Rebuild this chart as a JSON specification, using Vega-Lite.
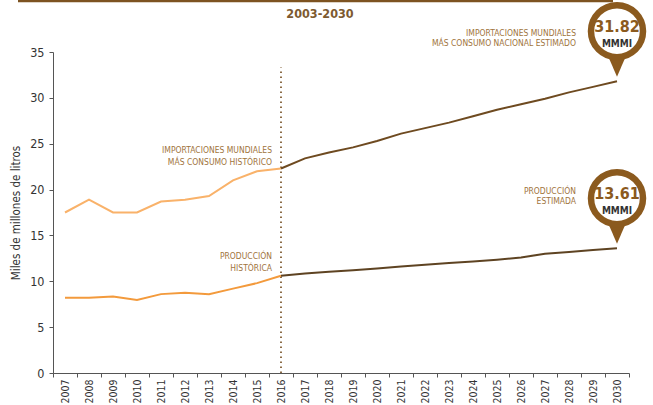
{
  "$schema": "https://vega.github.io/schema/vega-lite/v6.json",
  "width": 576,
  "height": 321,
  "autosize": {"type": "none"},
  "padding": {"left": 53, "top": 52, "right": 24, "bottom": 32},
  "background": "white",
  "config": {
    "view": {"stroke": null},
    "font": "'DejaVu Sans Condensed', Roboto, sans-serif",
    "axis": {"labelFont": "'DejaVu Sans Condensed', Roboto, sans-serif", "titleFont": "'DejaVu Sans Condensed', Roboto, sans-serif", "domainColor": "#555555", "tickColor": "#555555", "labelColor": "#333333", "titleColor": "#333333", "grid": false}
  },
  "datasets": {
    "series": [
      {"year": "2007", "value": 17.5, "serie": "imp_hist"},
      {"year": "2008", "value": 18.9, "serie": "imp_hist"},
      {"year": "2009", "value": 17.5, "serie": "imp_hist"},
      {"year": "2010", "value": 17.5, "serie": "imp_hist"},
      {"year": "2011", "value": 18.7, "serie": "imp_hist"},
      {"year": "2012", "value": 18.9, "serie": "imp_hist"},
      {"year": "2013", "value": 19.3, "serie": "imp_hist"},
      {"year": "2014", "value": 21.0, "serie": "imp_hist"},
      {"year": "2015", "value": 22.0, "serie": "imp_hist"},
      {"year": "2016", "value": 22.3, "serie": "imp_hist"},
      {"year": "2016", "value": 22.3, "serie": "imp_proj"},
      {"year": "2017", "value": 23.4, "serie": "imp_proj"},
      {"year": "2018", "value": 24.05, "serie": "imp_proj"},
      {"year": "2019", "value": 24.6, "serie": "imp_proj"},
      {"year": "2020", "value": 25.3, "serie": "imp_proj"},
      {"year": "2021", "value": 26.1, "serie": "imp_proj"},
      {"year": "2022", "value": 26.7, "serie": "imp_proj"},
      {"year": "2023", "value": 27.3, "serie": "imp_proj"},
      {"year": "2024", "value": 28.0, "serie": "imp_proj"},
      {"year": "2025", "value": 28.7, "serie": "imp_proj"},
      {"year": "2026", "value": 29.3, "serie": "imp_proj"},
      {"year": "2027", "value": 29.9, "serie": "imp_proj"},
      {"year": "2028", "value": 30.6, "serie": "imp_proj"},
      {"year": "2029", "value": 31.2, "serie": "imp_proj"},
      {"year": "2030", "value": 31.82, "serie": "imp_proj"},
      {"year": "2007", "value": 8.2, "serie": "prod_hist"},
      {"year": "2008", "value": 8.2, "serie": "prod_hist"},
      {"year": "2009", "value": 8.35, "serie": "prod_hist"},
      {"year": "2010", "value": 7.95, "serie": "prod_hist"},
      {"year": "2011", "value": 8.6, "serie": "prod_hist"},
      {"year": "2012", "value": 8.75, "serie": "prod_hist"},
      {"year": "2013", "value": 8.6, "serie": "prod_hist"},
      {"year": "2014", "value": 9.2, "serie": "prod_hist"},
      {"year": "2015", "value": 9.8, "serie": "prod_hist"},
      {"year": "2016", "value": 10.6, "serie": "prod_hist"},
      {"year": "2016", "value": 10.6, "serie": "prod_proj"},
      {"year": "2017", "value": 10.85, "serie": "prod_proj"},
      {"year": "2018", "value": 11.05, "serie": "prod_proj"},
      {"year": "2019", "value": 11.2, "serie": "prod_proj"},
      {"year": "2020", "value": 11.4, "serie": "prod_proj"},
      {"year": "2021", "value": 11.6, "serie": "prod_proj"},
      {"year": "2022", "value": 11.8, "serie": "prod_proj"},
      {"year": "2023", "value": 12.0, "serie": "prod_proj"},
      {"year": "2024", "value": 12.15, "serie": "prod_proj"},
      {"year": "2025", "value": 12.35, "serie": "prod_proj"},
      {"year": "2026", "value": 12.6, "serie": "prod_proj"},
      {"year": "2027", "value": 13.0, "serie": "prod_proj"},
      {"year": "2028", "value": 13.2, "serie": "prod_proj"},
      {"year": "2029", "value": 13.4, "serie": "prod_proj"},
      {"year": "2030", "value": 13.61, "serie": "prod_proj"}
    ],
    "labels": [
      {"year": "2016", "value": 24.35, "text": "IMPORTACIONES MUNDIALES", "group": "hist"},
      {"year": "2016", "value": 23.05, "text": "MÁS CONSUMO HISTÓRICO", "group": "hist"},
      {"year": "2016", "value": 12.8, "text": "PRODUCCIÓN", "group": "hist"},
      {"year": "2016", "value": 11.5, "text": "HISTÓRICA", "group": "hist"},
      {"year": "2030", "value": 37.08, "text": "IMPORTACIONES MUNDIALES", "group": "est"},
      {"year": "2030", "value": 35.99, "text": "MÁS CONSUMO NACIONAL ESTIMADO", "group": "est"},
      {"year": "2030", "value": 19.8, "text": "PRODUCCIÓN", "group": "est"},
      {"year": "2030", "value": 18.7, "text": "ESTIMADA", "group": "est"}
    ],
    "pins": [
      {"year": "2030", "value": 31.82, "label": "31.82", "unit": "MMMI"},
      {"year": "2030", "value": 13.61, "label": "13.61", "unit": "MMMI"}
    ],
    "marker": [
      {"year": "2016", "value": 0, "top": 33.3}
    ],
    "header": [
      {"start": "2007", "end": "2030", "value": 40.6, "title": "2003-2030", "at": "2016", "tpos": 39.1}
    ]
  },
  "encoding": {
    "x": {
      "field": "year", "type": "ordinal", "bandPosition": 0.5,
      "scale": {"type": "band", "paddingInner": 0, "paddingOuter": 0, "domain": ["2007","2008","2009","2010","2011","2012","2013","2014","2015","2016","2017","2018","2019","2020","2021","2022","2023","2024","2025","2026","2027","2028","2029","2030"]},
      "axis": {"title": null, "labelAngle": -90, "labelAlign": "right", "labelBaseline": "middle", "labelFontSize": 10.5, "labelPadding": 2, "tickSize": 4, "tickBand": "extent", "domainWidth": 1}
    },
    "y": {
      "field": "value", "type": "quantitative",
      "scale": {"domain": [0, 35], "nice": false, "zero": true},
      "axis": {"title": "Miles de millones de litros", "titleFontSize": 11.5, "titleFontWeight": "normal", "titlePadding": 8, "values": [0,5,10,15,20,25,30,35], "labelFontSize": 12.5, "labelPadding": 5, "tickSize": 4}
    }
  },
  "layer": [
    {
      "data": {"name": "header"},
      "mark": {"type": "rule", "color": "#7d5321", "strokeWidth": 3, "clip": false, "xOffset": -47, "x2Offset": -4},
      "encoding": {"x": {"field": "start", "type": "ordinal", "bandPosition": 0.5}, "x2": {"field": "end"}, "y": {"field": "value", "type": "quantitative"}}
    },
    {
      "data": {"name": "header"},
      "mark": {"type": "text", "color": "#7d5a30", "fontSize": 12.5, "fontWeight": 600, "dx": 39, "align": "center", "baseline": "middle", "clip": false},
      "encoding": {"x": {"field": "at", "type": "ordinal", "bandPosition": 0.5}, "y": {"field": "tpos", "type": "quantitative"}, "text": {"field": "title"}}
    },
    {
      "data": {"name": "marker"},
      "mark": {"type": "rule", "color": "#8a6a45", "strokeWidth": 2, "strokeDash": [1.5, 3.5]},
      "encoding": {"y2": {"field": "top"}}
    },
    {
      "data": {"name": "series"},
      "mark": {"type": "line", "strokeWidth": 2, "interpolate": "linear"},
      "encoding": {
        "color": {"field": "serie", "type": "nominal", "legend": null,
          "scale": {"domain": ["imp_hist", "imp_proj", "prod_hist", "prod_proj"], "range": ["#f9b26a", "#6e4a20", "#f39a3c", "#5e4322"]}},
        "detail": {"field": "serie"}
      }
    },
    {
      "data": {"name": "labels"},
      "transform": [{"filter": "datum.group == 'hist'"}],
      "mark": {"type": "text", "align": "right", "baseline": "middle", "dx": -9, "fontSize": 8.5, "color": "#a0743c"},
      "encoding": {"text": {"field": "text"}}
    },
    {
      "data": {"name": "labels"},
      "transform": [{"filter": "datum.group == 'est'"}],
      "mark": {"type": "text", "align": "right", "baseline": "middle", "dx": -41, "fontSize": 8.5, "color": "#a0743c", "clip": false},
      "encoding": {"text": {"field": "text"}}
    },
    {
      "data": {"name": "pins"},
      "mark": {"type": "point", "shape": "M -0.8 -1 L 0.8 -1 L 0 0.85 Z", "size": 400, "filled": true, "color": "#8b5a1e", "opacity": 1, "yOffset": -13, "clip": false},
      "encoding": {}
    },
    {
      "data": {"name": "pins"},
      "mark": {"type": "point", "shape": "circle", "size": 2704, "filled": true, "fill": "white", "stroke": "#8b5a1e", "strokeWidth": 6.5, "opacity": 1, "fillOpacity": 1, "strokeOpacity": 1, "yOffset": -50, "clip": false},
      "encoding": {}
    },
    {
      "data": {"name": "pins"},
      "mark": {"type": "text", "fontSize": 16, "fontWeight": "bold", "color": "#8b5a1e", "align": "center", "baseline": "middle", "yOffset": -54, "clip": false},
      "encoding": {"text": {"field": "label"}}
    },
    {
      "data": {"name": "pins"},
      "mark": {"type": "text", "fontSize": 10, "fontWeight": 600, "color": "#333333", "align": "center", "baseline": "middle", "yOffset": -37, "clip": false},
      "encoding": {"text": {"field": "unit"}}
    }
  ]
}
